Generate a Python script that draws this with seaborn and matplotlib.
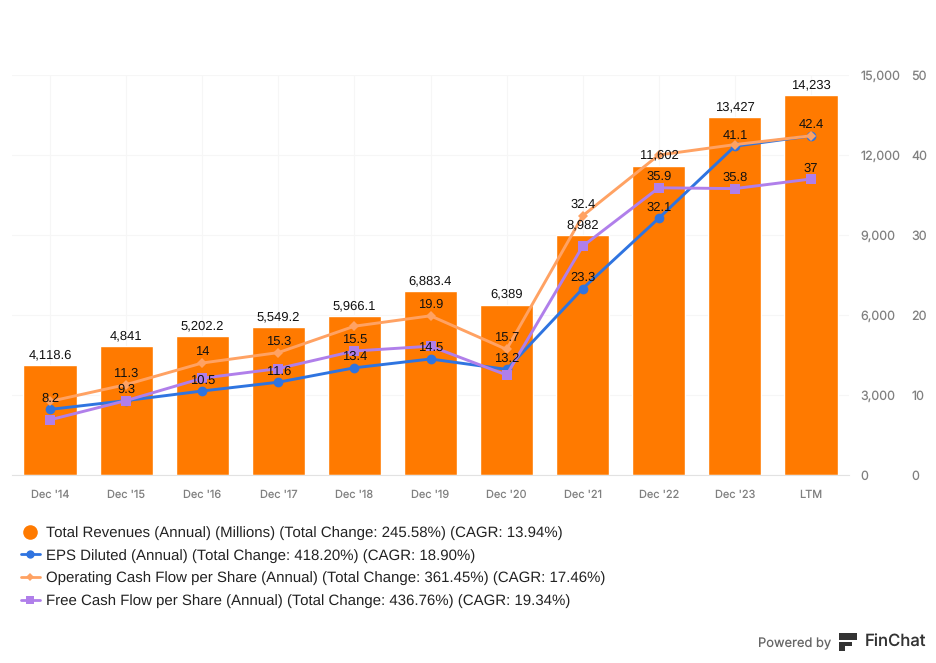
#!/usr/bin/env python3
import matplotlib
matplotlib.use("Agg")
import matplotlib.pyplot as plt
import seaborn as sns
import pandas as pd
from matplotlib.lines import Line2D
from matplotlib.patches import FancyBboxPatch

sns.set_style("white")
plt.rcParams['font.family'] = ['Liberation Sans', 'DejaVu Sans']
plt.rcParams['text.hinting'] = 'no_hinting'
plt.rcParams['text.hinting_factor'] = 1

periods = ["Dec '14", "Dec '15", "Dec '16", "Dec '17", "Dec '18", "Dec '19", "Dec '20", "Dec '21", "Dec '22", "Dec '23", "LTM"]
revenues = [4118.6, 4841, 5202.2, 5549.2, 5966.1, 6883.4, 6389, 8982, 11602, 13427, 14233]
revenue_labels = ["4,118.6", "4,841", "5,202.2", "5,549.2", "5,966.1", "6,883.4", "6,389", "8,982", "11,602", "13,427", "14,233"]
eps = [8.2, 9.3, 10.5, 11.6, 13.4, 14.5, 13.2, 23.3, 32.1, 41.1, 42.4]
ocf = [9.2, 11.3, 14, 15.3, 18.6, 19.9, 15.7, 32.4, 40.0, 41.3, 42.4]
fcf = [6.9, 9.3, 12.1, 13.3, 15.5, 16.1, 12.5, 28.6, 35.9, 35.8, 37]
eps_labels = ["8.2", "9.3", "10.5", "11.6", "13.4", "14.5", "13.2", "23.3", "32.1", "41.1", None]
ocf_labels = [None, "11.3", "14", "15.3", None, "19.9", "15.7", "32.4", None, None, "42.4"]
fcf_labels = [None, None, None, None, "15.5", None, None, None, "35.9", "35.8", "37"]
left_ticks = [0, 3000, 6000, 9000, 12000, 15000]
right_ticks = [0, 10, 20, 30, 40, 50]
legend_labels = [
    "Total Revenues (Annual) (Millions) (Total Change: 245.58%) (CAGR: 13.94%)",
    "EPS Diluted (Annual) (Total Change: 418.20%) (CAGR: 18.90%)",
    "Operating Cash Flow per Share (Annual) (Total Change: 361.45%) (CAGR: 17.46%)",
    "Free Cash Flow per Share (Annual) (Total Change: 436.76%) (CAGR: 19.34%)",
]

ORANGE = '#ff7a00'
BLUE = '#2f74e0'
PEACH = '#ffa263'
PURPLE = '#b07fea'
TICK = '#808080'
W, H = 936, 663

df = pd.DataFrame({'period': periods, 'revenue': revenues, 'eps': eps, 'ocf': ocf, 'fcf': fcf})

fig = plt.figure(figsize=(W / 100, H / 100), dpi=100)
ax = fig.add_axes([12 / W, 1 - 475 / H, 837 / W, 400 / H])

sns.barplot(data=df, x='period', y='revenue', color=ORANGE, saturation=1, width=0.7, ax=ax, zorder=2)
ax.set_xlim(-0.5, 10.5)
ax.set_ylim(0, 15000)
ax.set_xlabel('')
ax.set_ylabel('')
ax.set_yticks(left_ticks)
ax.set_yticklabels([f'{t:,}' for t in left_ticks])
ax.grid(True, color='#f6f6f6', linewidth=0.8)
ax.set_axisbelow(True)
ax.tick_params(axis='x', length=7, width=0.8, color='#909090', pad=3.5, labelsize=7.9, labelcolor=TICK)
sns.despine(ax=ax, left=True, right=True, top=True)
ax.spines['bottom'].set_color('#e2e2e2')

ax2 = ax.twinx()
# twinx puts the first axis' ticks back on the left
ax.yaxis.tick_right()
ax.tick_params(axis='y', length=0, pad=8, labelsize=9, labelcolor=TICK)
for lab in ax.get_xticklabels() + ax.get_yticklabels():
    lab.set_family(['Inter', 'DejaVu Sans'])

for col, color, marker, ms in [('eps', BLUE, 'o', 7), ('ocf', PEACH, 'D', 5), ('fcf', PURPLE, 's', 7)]:
    sns.lineplot(data=df, x='period', y=col, color=color, marker=marker, markersize=ms,
                 markeredgewidth=0, linewidth=2.1, sort=False, errorbar=None, ax=ax2)
ax2.set_ylim(0, 50)
ax2.set_xlim(-0.5, 10.5)
ax2.set_ylabel('')
ax2.set_yticks(right_ticks)
ax2.tick_params(axis='y', length=0, pad=45, labelsize=9, labelcolor=TICK)
for lab in ax2.get_yticklabels():
    lab.set_family(['Inter', 'DejaVu Sans'])
ax2.grid(False)
sns.despine(ax=ax2, left=True, right=True, top=True, bottom=True)

# labels go on the top axes so they stay over the lines
for i, (v, s) in enumerate(zip(revenues, revenue_labels)):
    ax2.annotate(s, xy=(i, v), xycoords=ax.transData, xytext=(0, 3), textcoords='offset points',
                 ha='center', va='bottom', fontsize=9.3, color='#111111', zorder=6)
for vals, labels in [(eps, eps_labels), (ocf, ocf_labels), (fcf, fcf_labels)]:
    for i, (v, s) in enumerate(zip(vals, labels)):
        if s is not None:
            ax2.annotate(s, xy=(i, v), xytext=(0, 3.5), textcoords='offset points',
                         ha='center', va='bottom', fontsize=9.3, color='#111111', zorder=6)

handles = [
    Line2D([], [], linestyle='none', marker='o', color=ORANGE, markersize=10.5, markeredgewidth=0),
    Line2D([], [], color=BLUE, marker='o', markersize=6, markeredgewidth=0, linewidth=2),
    Line2D([], [], color=PEACH, marker='D', markersize=4.5, markeredgewidth=0, linewidth=2),
    Line2D([], [], color=PURPLE, marker='s', markersize=6, markeredgewidth=0, linewidth=2),
]
fig.legend(handles, legend_labels, loc='upper left', bbox_to_anchor=(21 / W, 1 - 526 / H), frameon=False,
           fontsize=10.76, labelcolor='#222222', handlelength=1.27, handletextpad=0.4,
           labelspacing=0.58, borderpad=0, borderaxespad=0)

# footer
fig.text(758 / W, 1 - 644 / H, 'Powered by', family=['Inter', 'DejaVu Sans'], fontsize=9.3,
         color='#666666', ha='left', va='center')
fig.text(865 / W, 1 - 642 / H, 'FinChat', family=['Inter', 'DejaVu Sans'], fontsize=12,
         fontweight='medium', color='#333333', ha='left', va='center')
for x0, y0, x1, y1 in [(839, 633, 857, 640), (839, 642, 852, 646), (839, 642, 845, 651)]:
    fig.add_artist(FancyBboxPatch((x0 / W, 1 - y1 / H), (x1 - x0) / W, (y1 - y0) / H,
                                  boxstyle='square,pad=0', transform=fig.transFigure,
                                  facecolor='#333333', edgecolor='none'))

fig.savefig('out.png', dpi=100)
